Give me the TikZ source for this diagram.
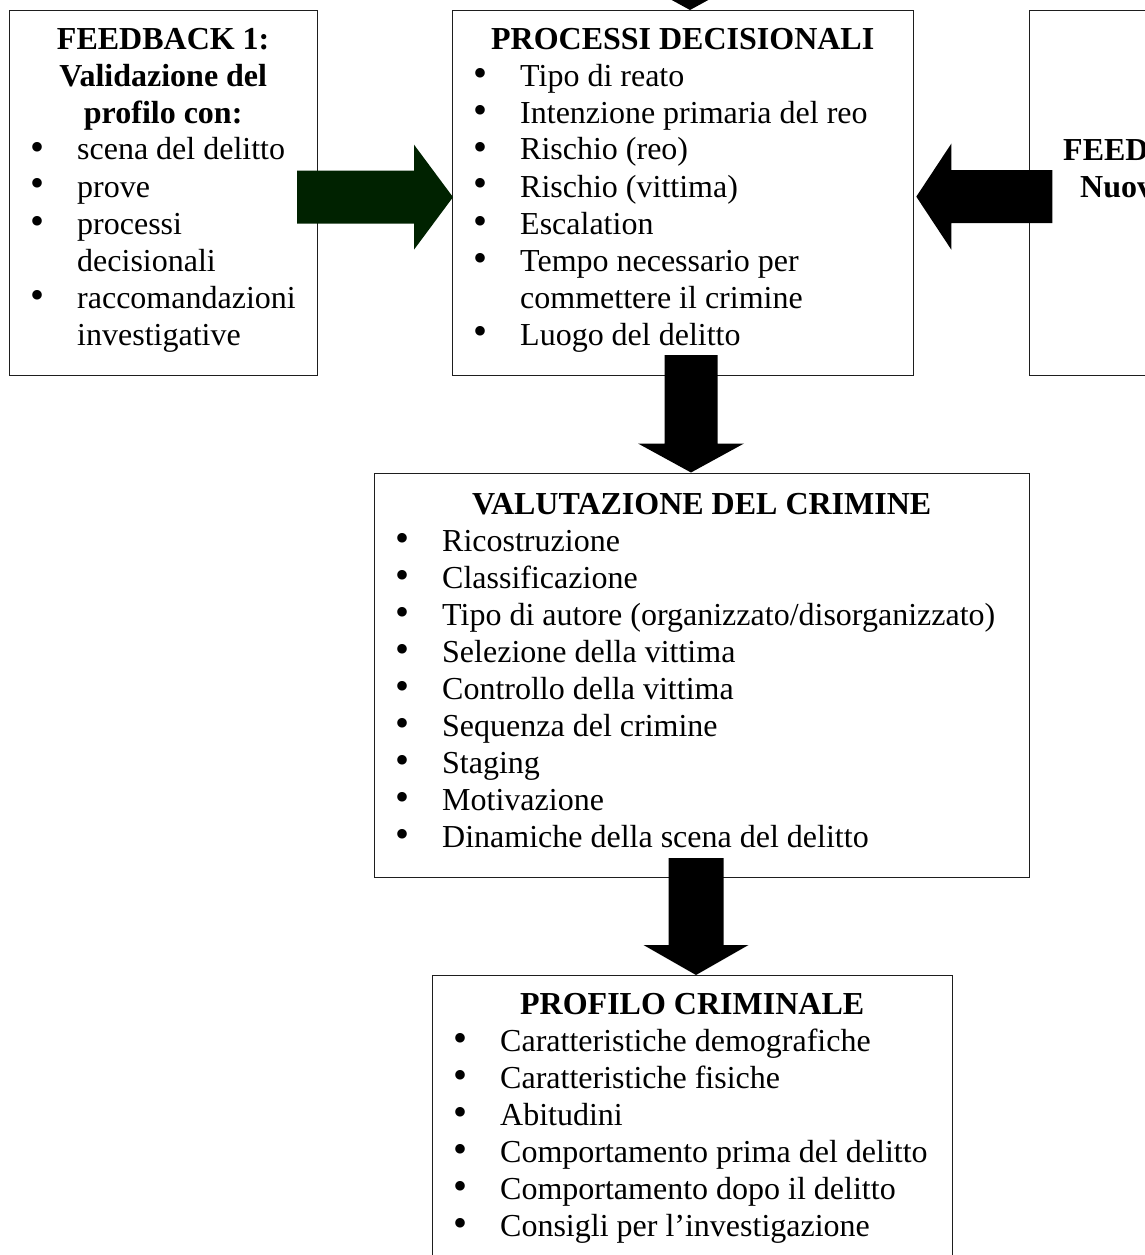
\documentclass[tikz,border=0pt]{standalone}
\usepackage{fontspec}
\usepackage{graphicx}
\setmainfont{Liberation Serif}
\usetikzlibrary{calc}

\definecolor{arrowgreen}{RGB}{0,34,0}
\definecolor{framegray}{RGB}{30,30,30}

% bullet line and continuation line inside a box (68pt text indent)
\newcommand\itm[1]{\par\hspace*{21pt}\makebox[47pt][l]{\scalebox{1.25}{\textbullet}}#1}
\newcommand\cont[1]{\par\hspace*{68pt}#1}

% block arrows: #1 style, #2 tip, #3 head half-width, #4 head length,
% #5 shaft half-width, #6 shaft length
\newcommand\blockdown[6]{\fill[#1] (#2) -- ++(-#3,-#4) -- ++({#3-#5},0) -- ++(0,-#6)
  -- ++({2*#5},0) -- ++(0,#6) -- ++({#3-#5},0) -- cycle;}
\newcommand\blockright[6]{\fill[#1] (#2) -- ++(-#4,-#3) -- ++(0,{#3-#5}) -- ++(-#6,0)
  -- ++(0,{2*#5}) -- ++(#6,0) -- ++(0,{#3-#5}) -- cycle;}
\newcommand\blockleft[6]{\fill[#1] (#2) -- ++(#4,-#3) -- ++(0,{#3-#5}) -- ++(#6,0)
  -- ++(0,{2*#5}) -- ++(-#6,0) -- ++(0,{#3-#5}) -- cycle;}

\tikzset{
  frame/.style={draw=framegray, line width=1.3pt, fill=white, rectangle,
    inner sep=0pt, anchor=north west},
  body/.style={inner sep=0pt, anchor=base west,
    font=\fontsize{32pt}{37pt}\selectfont},
}

\begin{document}
\begin{tikzpicture}[x=1pt, y=-1pt]
\useasboundingbox (0,0) rectangle (1145,1255);
\clip (0,0) rectangle (1145,1255);
\fill[white] (0,0) rectangle (1145,1255);

% boxes
\node[frame, minimum width=308pt, minimum height=365pt] (fb1) at (9,10) {};
\node[frame, minimum width=461pt, minimum height=365pt] (proc) at (452,10) {};
\node[frame, minimum width=300pt, minimum height=365pt] (fb2) at (1029,10) {};
\node[frame, minimum width=655pt, minimum height=404.5pt] (valu) at (374,472.5) {};
\node[frame, minimum width=520pt, minimum height=330pt] (prof) at (432,975) {};

% box contents
\node[body] (fb1t) at ($(fb1.north west)+(0,39)$) {\parbox[t]{308pt}{%
  {\centering\bfseries FEEDBACK 1:\\ Validazione del\\ profilo con:\par}%
  \itm{scena del delitto}
  \itm{prove}
  \itm{processi}
  \cont{decisionali}
  \itm{raccomandazioni}
  \cont{investigative}}};

\node[body] (proct) at ($(proc.north west)+(0,39)$) {\parbox[t]{461pt}{%
  {\centering\bfseries PROCESSI DECISIONALI\par}%
  \itm{Tipo di reato}
  \itm{Intenzione primaria del reo}
  \itm{Rischio (reo)}
  \itm{Rischio (vittima)}
  \itm{Escalation}
  \itm{Tempo necessario per}
  \cont{commettere il crimine}
  \itm{Luogo del delitto}}};

\node[body] (fb2t) at ($(fb2.north west)+(34,150)$) {\parbox[t]{120pt}{%
  \bfseries FEED\par\hspace*{17pt}Nuov}};

\node[body] (valut) at ($(valu.north west)+(0,41.5)$) {\parbox[t]{655pt}{%
  {\centering\bfseries VALUTAZIONE DEL CRIMINE\par}%
  \itm{Ricostruzione}
  \itm{Classificazione}
  \itm{Tipo di autore (organizzato/disorganizzato)}
  \itm{Selezione della vittima}
  \itm{Controllo della vittima}
  \itm{Sequenza del crimine}
  \itm{Staging}
  \itm{Motivazione}
  \itm{Dinamiche della scena del delitto}}};

\node[body] (proft) at ($(prof.north west)+(0,39)$) {\parbox[t]{520pt}{%
  {\centering\bfseries PROFILO CRIMINALE\par}%
  \itm{Caratteristiche demografiche}
  \itm{Caratteristiche fisiche}
  \itm{Abitudini}
  \itm{Comportamento prima del delitto}
  \itm{Comportamento dopo il delitto}
  \itm{Consigli per l’investigazione}}};

% arrow tips on the box borders
\coordinate (topTip) at ($(proc.north west)+(238,0)$);
\coordinate (procToValu) at ($(valu.north west)+(317,0)$);
\coordinate (valuToProf) at ($(prof.north west)+(264,0)$);
\coordinate (fb1ToProc) at ($(proc.west)+(1,4)$);
\coordinate (fb2ToProc) at ($(proc.east)+(2,3.5)$);

% block arrows
\blockdown{black}{topTip}{53}{29}{26.5}{100}
\blockdown{black}{procToValu}{53}{29}{26.5}{88.5}
\blockdown{black}{valuToProf}{52.5}{30}{27.5}{87}
\blockright{arrowgreen}{fb1ToProc}{52.5}{39}{26.5}{117}
\blockleft{black}{fb2ToProc}{53}{35}{26.5}{101}
\end{tikzpicture}
\end{document}
